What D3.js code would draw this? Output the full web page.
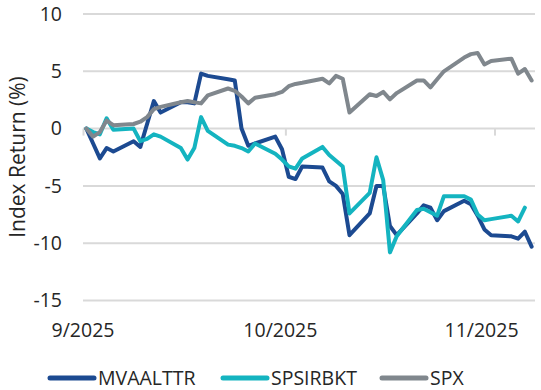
<!DOCTYPE html>
<meta charset="utf-8">
<head>
  <title>Index Return</title>
</head>

<style>
body { margin: 0; background: #fff; }
text {
  font-family: "Open Sans", "Noto Sans", sans-serif;
  fill: #262626;
  font-size: 19.5px;
}
.grid line { stroke: #d9d9d9; stroke-width: 2; }
.series { fill: none; stroke-width: 4; stroke-linejoin: round; stroke-linecap: round; }
</style>

<body>
  <svg width="541" height="390"></svg>

  <script src="https://cdnjs.cloudflare.com/ajax/libs/d3/7.8.5/d3.min.js"></script>
  <script>
// trading days, Sep 1 - Nov 6 2025
var dates = [
  '09-01','09-02','09-03','09-04','09-05',
  '09-08','09-09','09-10','09-11','09-12',
  '09-15','09-16','09-17','09-18','09-19',
  '09-22','09-23','09-24','09-25','09-26',
  '09-29','09-30','10-01','10-02','10-03',
  '10-06','10-07','10-08','10-09','10-10',
  '10-13','10-14','10-15','10-16','10-17',
  '10-20','10-21','10-22','10-23','10-24',
  '10-27','10-28','10-29','10-30','10-31',
  '11-03','11-04','11-05','11-06'
];

var mvaalttr = [
  0, -1.3, -2.6, -1.7, -2.0,
  -1.1, -1.6, 0.4, 2.4, 1.4,
  2.3, 2.3, 2.2, 4.8, 4.6,
  4.3, 4.2, 0.0, -1.5, -1.3,
  -0.7, -1.8, -4.2, -4.4, -3.3,
  -3.4, -4.6, -5.0, -5.7, -9.3,
  -7.4, -5.0, -5.0, -8.5, -9.3,
  -7.4, -6.7, -6.9, -8.0, -7.2,
  -6.3, -6.6, -7.6, -8.8, -9.3,
  -9.4, -9.6, -9.0, -10.3
];

var spsirbkt = [
  0, -0.3, -0.5, 0.9, -0.1,
  0.0, -1.1, -0.9, -0.5, -0.7,
  -1.7, -2.7, -1.7, 1.0, -0.2,
  -1.4, -1.5, -1.7, -2.0, -1.3,
  -2.2, -2.7, -3.3, -3.5, -2.6,
  -1.6, -2.3, -2.8, -3.3, -7.4,
  -5.6, -2.5, -4.5, -10.8, -9.4,
  -7.1, -7.0, -7.3, -7.6, -5.9,
  -5.9, -6.2, -7.5, -8.0, -7.9,
  -7.6, -8.1, -6.9, null
];

var spx = [
  0, -0.7, -0.3, 0.7, 0.3,
  0.4, 0.6, 1.0, 1.7, 1.9,
  2.3, 2.4, 2.3, 2.2, 2.9,
  3.5, 3.3, 2.8, 2.2, 2.7,
  3.0, 3.2, 3.7, 3.9, 4.0,
  4.35, 3.95, 4.6, 4.35, 1.4,
  3.0, 2.85, 3.2, 2.55, 3.1,
  4.2, 4.2, 3.6, 4.3, 5.0,
  6.2, 6.5, 6.6, 5.6, 5.9,
  6.1, 4.8, 5.2, 4.2
];

var seriesNames = ['MVAALTTR', 'SPSIRBKT', 'SPX'];
var seriesColors = ['#1c4a91', '#14b4c0', '#80878d'];
var yTicks = [10, 5, 0, -5, -10, -15];
var xTickDates = ['2025-09-01', '2025-10-01', '2025-11-01'];
var xTickLabels = ['9/2025', '10/2025', '11/2025'];

var parse = d3.utcParse('%Y-%m-%d');
var dayDates = dates.map(function(d) { return d3.utcHour.offset(parse('2025-' + d), 12); });

var x = d3.scaleUtc()
  .domain([parse('2025-09-01'), parse('2025-11-07')])
  .range([83, 535]);

var y = d3.scaleLinear()
  .domain([-15, 10])
  .range([300.5, 14]);

var svg = d3.select('svg');

// horizontal gridlines
svg.append('g')
  .attr('class', 'grid')
  .selectAll('line')
  .data(yTicks)
  .enter()
  .append('line')
  .attr('x1', 83)
  .attr('x2', 535)
  .attr('y1', function(d) { return y(d); })
  .attr('y2', function(d) { return y(d); });

// y labels (plain hyphen for negatives, like the original)
var yAxis = svg.append('g')
  .attr('transform', 'translate(62,0)')
  .call(d3.axisLeft(y).tickValues(yTicks).tickSize(0).tickPadding(0)
    .tickFormat(function(d) { return String(d); }));
yAxis.select('.domain').remove();
yAxis.selectAll('text')
  .attr('fill', '#262626')
  .style('font-size', '19.5px')
  .style('font-family', '"Open Sans", sans-serif');

// x axis ticks hang off the zero line
var xAxis = svg.append('g')
  .attr('transform', 'translate(0,' + y(0) + ')')
  .call(d3.axisBottom(x)
    .tickValues(xTickDates.map(parse))
    .tickFormat(function(d, i) { return xTickLabels[i]; })
    .tickSizeInner(7).tickSizeOuter(0));
xAxis.select('.domain').remove();
xAxis.selectAll('line').attr('stroke', '#d9d9d9').attr('stroke-width', 2);

// labels sit at the bottom of the plot
var labelShift = [0, -5, -13];
svg.append('g')
  .selectAll('text')
  .data(xTickDates)
  .enter()
  .append('text')
  .attr('x', function(d, i) { return x(parse(d)) + labelShift[i]; })
  .attr('y', 337)
  .attr('text-anchor', 'middle')
  .text(function(d, i) { return xTickLabels[i]; });
xAxis.selectAll('text').remove();

// y title
svg.append('text')
  .attr('transform', 'translate(18,157) rotate(-90)')
  .attr('text-anchor', 'middle')
  .attr('dy', '0.35em')
  .style('font-size', '21px')
  .text('Index Return (%)');

// lines
var series = [mvaalttr, spsirbkt, spx];
var line = d3.line()
  .defined(function(d) { return d != null; })
  .x(function(d, i) { return x(dayDates[i]); })
  .y(function(d) { return y(d); });

svg.append('g')
  .selectAll('path')
  .data(series)
  .enter()
  .append('path')
  .attr('class', 'series')
  .attr('stroke', function(d, i) { return seriesColors[i]; })
  .attr('d', line);

// legend
var legendX = [50, 223, 382];
var legend = svg.append('g')
  .selectAll('g')
  .data(seriesNames)
  .enter()
  .append('g')
  .attr('transform', function(d, i) { return 'translate(' + legendX[i] + ',378)'; });

legend.append('line')
  .attr('x1', 0)
  .attr('x2', 44)
  .attr('stroke', function(d, i) { return seriesColors[i]; })
  .attr('stroke-width', 5)
  .attr('stroke-linecap', 'round');

legend.append('text')
  .attr('x', 48)
  .attr('dy', '0.36em')
  .text(function(d) { return d; });
  </script>
</body>
</html>
